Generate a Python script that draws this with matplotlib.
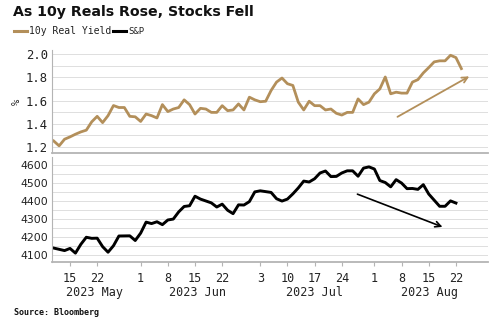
import matplotlib
matplotlib.use("Agg")
import matplotlib.pyplot as plt
from matplotlib.ticker import MultipleLocator, FormatStrFormatter
import numpy as np
import pandas as pd

# ---------------- data ----------------
# the chart uses a weekday axis (no weekend gaps)
yield_dates = pd.bdate_range("2023-05-10", "2023-08-23")
real_yield = [1.252, 1.21, 1.267, 1.287, 1.31, 1.33, 1.345, 1.417, 1.464, 1.41,
              1.47, 1.557, 1.54, 1.54, 1.464, 1.46, 1.42, 1.484, 1.47, 1.45,
              1.565, 1.505, 1.527, 1.54, 1.606, 1.565, 1.484, 1.533, 1.527, 1.498,
              1.498, 1.556, 1.513, 1.519, 1.571, 1.519, 1.629, 1.606, 1.59, 1.594,
              1.687, 1.759, 1.794, 1.745, 1.73, 1.586, 1.519, 1.594, 1.556, 1.556,
              1.519, 1.527, 1.49, 1.475, 1.498, 1.498, 1.614, 1.565, 1.586, 1.658,
              1.70, 1.803, 1.658, 1.672, 1.664, 1.664, 1.759, 1.78, 1.838, 1.884,
              1.933, 1.942, 1.942, 1.99, 1.97, 1.875]

holidays = ["2023-05-29", "2023-06-19", "2023-07-04"]
spx_dates = pd.bdate_range("2023-05-10", "2023-08-22").drop(pd.to_datetime(holidays))
spx = [4138, 4131, 4124, 4136, 4110, 4159, 4198, 4192, 4193, 4146,
       4115, 4151, 4205, 4206, 4180, 4221, 4282, 4274, 4284, 4268,
       4294, 4299, 4339, 4369, 4373, 4426, 4410, 4389, 4366, 4382,
       4348, 4329, 4378, 4377, 4396, 4450, 4456, 4447, 4412, 4399,
       4410, 4439, 4472, 4510, 4505, 4523, 4555, 4566, 4535, 4536,
       4555, 4567, 4567, 4537, 4582, 4589, 4577, 4513, 4502, 4478,
       4518, 4499, 4468, 4469, 4464, 4490, 4438, 4404, 4370, 4370,
       4400, 4388]

tick_dates = ["2023-05-15", "2023-05-22", "2023-06-01", "2023-06-08", "2023-06-15",
              "2023-06-22", "2023-07-03", "2023-07-10", "2023-07-17", "2023-07-24",
              "2023-08-01", "2023-08-08", "2023-08-15", "2023-08-22"]
month_labels = ["2023 May", "2023 Jun", "2023 Jul", "2023 Aug"]
month_starts = ["2023-06-01", "2023-07-03", "2023-08-01"]

title = "As 10y Reals Rose, Stocks Fell"
source = "Source: Bloomberg"

ORIGIN = np.datetime64("2023-05-15")


def wd(dates):
    d = np.array(pd.to_datetime(dates).values.astype("datetime64[D]"))
    return np.busday_count(ORIGIN, d)


def wd1(s):
    return float(np.busday_count(ORIGIN, np.datetime64(s)))


# ---------------- style ----------------
GOLD = "#b38f5a"
GRID = "#dedede"
SPINE = "#b4b4b4"
MONO = "DejaVu Sans Mono"
TXT = "#222222"

fig = plt.figure(figsize=(5.0, 3.27), dpi=100)
ax1 = fig.add_axes([0.104, 0.532, 0.872, 0.315])
ax2 = fig.add_axes([0.104, 0.199, 0.872, 0.321], sharex=ax1)

xmin, xmax = -3.31, 76.9

ax1.plot(wd(yield_dates), real_yield, color=GOLD, lw=2.0, solid_joinstyle="round")
ax2.plot(wd(spx_dates), spx, color="black", lw=2.1, solid_joinstyle="round")

ax1.set_ylim(1.148, 2.035)
ax2.set_ylim(4061, 4644)
ax1.set_xlim(xmin, xmax)

ax1.yaxis.set_major_locator(MultipleLocator(0.2))
ax1.yaxis.set_minor_locator(MultipleLocator(0.1))
ax2.yaxis.set_major_locator(MultipleLocator(100))
ax2.yaxis.set_minor_locator(MultipleLocator(50))
ax1.yaxis.set_major_formatter(FormatStrFormatter("%.1f"))

tks = wd(tick_dates)
for ax in (ax1, ax2):
    ax.grid(True, which="both", axis="y", color=GRID, lw=0.7)
    ax.set_xticks(tks)
    for s in ("top", "right"):
        ax.spines[s].set_visible(False)
    ax.spines["left"].set_color(SPINE)
    ax.spines["bottom"].set_color(SPINE)
    ax.spines["bottom"].set_linewidth(1.3)
    ax.tick_params(axis="y", which="both", length=0, pad=3)
    ax.set_axisbelow(True)

ax1.tick_params(axis="x", which="both", length=0, labelbottom=False)
for lab in ax1.get_yticklabels():
    lab.set_fontfamily(MONO)
    lab.set_fontsize(8.8)
    lab.set_color(TXT)
for lab in ax2.get_yticklabels():
    lab.set_fontfamily("DejaVu Sans")
    lab.set_fontsize(7.8)
    lab.set_color(TXT)

ax2.set_xticklabels([str(d.day) for d in pd.to_datetime(tick_dates)],
                    fontfamily=MONO, fontsize=8.5, color=TXT)
ax2.tick_params(axis="x", length=3, color=SPINE, pad=4)

# month labels centred on the visible part of each month
bounds = [xmin] + [wd1(m) - 0.5 for m in month_starts] + [xmax]
for i, lbl in enumerate(month_labels):
    mid = (bounds[i] + bounds[i + 1]) / 2
    ax2.text(mid, -0.29, lbl, transform=ax2.get_xaxis_transform(),
             ha="center", va="center", fontfamily=MONO, fontsize=8.5, color=TXT)

ax1.set_ylabel("%", fontfamily=MONO, fontsize=7.5, labelpad=3, color=TXT)

# arrows
ax1.annotate("", xy=(73.9, 1.82), xytext=(59.8, 1.448),
             arrowprops=dict(arrowstyle="->", color=GOLD, lw=1.3, mutation_scale=10))
ax2.annotate("", xy=(69.0, 4250), xytext=(52.4, 4443),
             arrowprops=dict(arrowstyle="->", color="black", lw=1.2, mutation_scale=10))

# title, legend, source
fig.text(0.026, 0.962, title, fontsize=10.2, fontweight="bold", ha="left", va="center",
         color="#111111")
fig.add_artist(plt.Line2D([0.028, 0.054], [0.905, 0.905], color=GOLD, lw=2.2))
fig.text(0.058, 0.905, "10y Real Yield", fontfamily=MONO, fontsize=7.0, ha="left",
         va="center", color=TXT)
fig.add_artist(plt.Line2D([0.226, 0.252], [0.905, 0.905], color="black", lw=2.2))
fig.text(0.256, 0.905, "S&P", fontfamily=MONO, fontsize=6.5, ha="left", va="center",
         color=TXT)
fig.text(0.028, 0.045, source, fontfamily=MONO, fontsize=6, fontweight="bold",
         ha="left", va="center", color="#111111")

fig.savefig("out.png", dpi=100, facecolor="white")
